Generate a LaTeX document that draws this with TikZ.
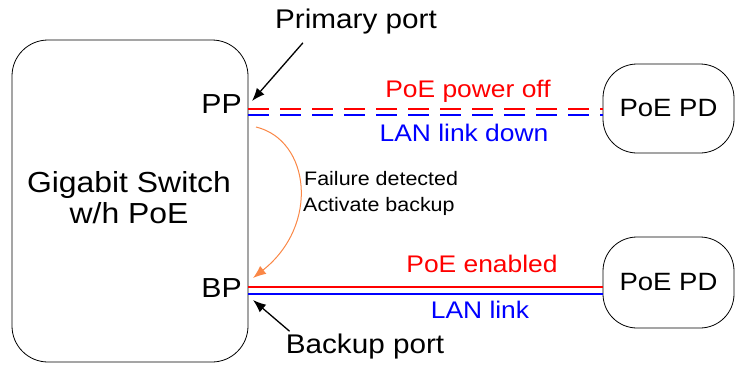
\documentclass[tikz,border=0pt]{standalone}
\usepackage{fontspec}
\setmainfont[FakeStretch=1.1]{Liberation Sans}
\usepackage{tikz}
\usetikzlibrary{positioning}
\usetikzlibrary{calc}
\usetikzlibrary{arrows.meta}
\usepackage{xcolor}
\definecolor{poered}{RGB}{255,0,0}
\definecolor{lanblue}{RGB}{0,0,255}
\definecolor{failorange}{RGB}{250,135,70}

\begin{document}
\begin{tikzpicture}[x=1pt,y=-1pt,>={Latex[length=13pt,width=10pt]}]
          \useasboundingbox (0,0) rectangle (735,364);
          \begin{scope}[every node/.style={inner sep=0pt}]
            \node[draw,thick,rounded corners=36pt,minimum width=236pt,minimum height=322pt] (sw) at (130,201) {};
            \node[anchor=base,font=\fontsize{29}{31}\selectfont] (swname) at (129,192) {Gigabit Switch};
            \node[anchor=base,font=\fontsize{29}{31}\selectfont] (swpoe) at (129,223) {w/h PoE};
            \node[anchor=base east,font=\fontsize{27.5}{30}\selectfont] (pp) at (242,113) {PP};
            \node[anchor=base east,font=\fontsize{27.5}{30}\selectfont] (bp) at (242,297) {BP};
            \node[draw,thick,rounded corners=34pt,minimum width=131pt,minimum height=89pt,font=\fontsize{25}{27}\selectfont] (pd1) at (668.5,108.5) {PoE PD};
            \node[draw,thick,rounded corners=34pt,minimum width=131pt,minimum height=91pt,font=\fontsize{25}{27}\selectfont] (pd2) at (668.5,282.5) {PoE PD};
            \node[anchor=base,font=\fontsize{27}{30}\selectfont] (prim) at (356,28) {Primary port};
            \node[anchor=base,font=\fontsize{27}{30}\selectfont] (back) at (365,353) {Backup port};
            \node[anchor=base,text=poered,font=\fontsize{24}{26}\selectfont] (off) at (468,97) {PoE power off};
            \node[anchor=base,text=lanblue,font=\fontsize{24}{26}\selectfont] (down) at (464,141) {LAN link down};
            \node[anchor=base,text=poered,font=\fontsize{24}{26}\selectfont] (enab) at (482,272) {PoE enabled};
            \node[anchor=base,text=lanblue,font=\fontsize{24}{26}\selectfont] (link) at (480,318) {LAN link};
            \node[anchor=base west,font=\fontsize{19.5}{21}\selectfont] (fail) at (304,185) {Failure detected};
            \node[anchor=base west,font=\fontsize{19.5}{21}\selectfont] (act) at (303,211) {Activate backup};
          \end{scope}
          % port ends on the switch edge
          \coordinate (pptop) at (sw.east |- 0,109);
          \coordinate (ppbot) at (sw.east |- 0,115);
          \coordinate (bptop) at (sw.east |- 0,287);
          \coordinate (bpbot) at (sw.east |- 0,294);
          \begin{scope}[every path/.style={line width=2.6pt,dash pattern=on 21pt off 11pt}]
            \draw[poered] (pptop) -- (pptop -| pd1.west);
            \draw[lanblue] (ppbot) -- (ppbot -| pd1.west);
          \end{scope}
          \begin{scope}[every path/.style={line width=2.4pt}]
            \draw[poered] (bptop) -- (bptop -| pd2.west);
            \draw[lanblue] (bpbot) -- (bpbot -| pd2.west);
          \end{scope}
          \begin{scope}[every path/.style={->,line width=1.3pt}]
            \draw (prim.south west) ++(28,9) coordinate (pa) (pa) -- ($(pp.base east)+(10,-12)$);
            \draw (back.north west) ++(4,-2) coordinate (ba) (ba) -- ($(bp.base east)+(11,3)$);
          \end{scope}
          \coordinate (fs) at (256,127);
          \coordinate (fe) at (253,278);
          \draw[->,failorange,line width=1pt] (fs) .. controls (310,140) and (320,225) .. (fe);
        \end{tikzpicture}
\end{document}
